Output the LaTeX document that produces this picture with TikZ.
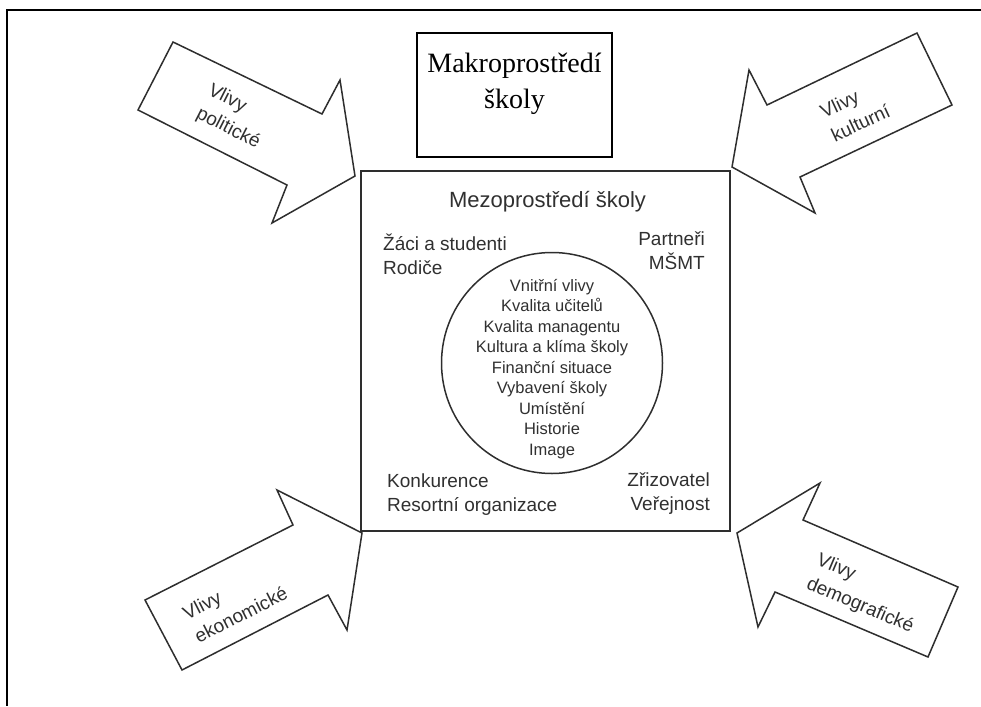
\documentclass[tikz,border=0pt]{standalone}
\usepackage{fontspec}
\setmainfont{Liberation Serif}
\newfontfamily\helv{Liberation Sans}
\definecolor{ink}{HTML}{2E2E2E}
\definecolor{txt}{HTML}{303030}
\begin{document}
\begin{tikzpicture}[x=1pt,y=-1pt,
  frameline/.style={line width=2pt,black},
  blockarrow/.style={draw=ink,line width=1.5pt,line join=miter,fill=white},
  arrowlabel/.style={font=\helv\fontsize{19}{26}\selectfont,text=txt,align=left,inner sep=0pt},
  cornertext/.style={font=\helv\fontsize{19}{24}\selectfont,text=txt,inner sep=0pt},
  innertext/.style={font=\helv\fontsize{16.5}{20.5}\selectfont,text=txt,align=center,inner sep=0pt},
  titletext/.style={font=\fontsize{28}{36}\selectfont,align=center,inner sep=0pt}]

\useasboundingbox (0,0) rectangle (981,706);

% outer frame: top and left edges only
\coordinate (fTR) at (981,10);
\coordinate (fTL) at (7,10);
\coordinate (fBL) at (7,706);
\draw[frameline] (fTR) -- (fTL) -- (fBL);

% title box
\node[draw=black,line width=1.5pt,minimum width=195pt,minimum height=124pt,inner sep=0pt] (makro) at (514.5,95) {};
\node[titletext] (makrotext) at (514.5,84) {Makroprostředí\\školy};

% mesoenvironment box
\node[draw=ink,line width=1.5pt,minimum width=369pt,minimum height=360pt,inner sep=0pt] (mezo) at (545.5,351) {};
\node[font=\helv\fontsize{22}{26}\selectfont,text=txt,inner sep=0pt] (mezotitle) at (547.5,202) {Mezoprostředí školy};

\node[cornertext,align=left,anchor=west] (zaci) at (383,254) {Žáci a studenti\\Rodiče};
\node[cornertext,align=right,anchor=east] (partneri) at (705,251) {Partneři\\MŠMT};
\node[cornertext,align=left,anchor=west] (konkurence) at (387,495) {Konkurence\\Resortní organizace};
\node[cornertext,align=right,anchor=east] (zrizovatel) at (710,494) {Zřizovatel\\Veřejnost};

% inner circle
\node[draw=ink,line width=1.5pt,circle,minimum size=221pt,inner sep=0pt] (vnitrni) at (552,363) {};
\node[innertext] (vnitrnitext) at (552,369) {Vnitřní vlivy\\Kvalita učitelů\\Kvalita managentu\\Kultura a klíma školy\\Finanční situace\\Vybavení školy\\Umístění\\Historie\\Image};

% block arrows pointing at the corners of the box
\coordinate (p1) at (173,42);  \coordinate (p2) at (322,114); \coordinate (p3) at (340,80);
\coordinate (p4) at (355,176); \coordinate (p5) at (272,223); \coordinate (p6) at (287,185);
\coordinate (p7) at (138,110);
\draw[blockarrow] (p1) -- (p2) -- (p3) -- (p4) -- (p5) -- (p6) -- (p7) -- cycle;
\node[arrowlabel,rotate=-27] (politicke) at (234,117) {Vlivy\\politické};

\coordinate (k1) at (917,33);  \coordinate (k2) at (952,105); \coordinate (k3) at (800,177);
\coordinate (k4) at (815,213); \coordinate (k5) at (732,167); \coordinate (k6) at (749,70);
\coordinate (k7) at (767,105);
\draw[blockarrow] (k1) -- (k2) -- (k3) -- (k4) -- (k5) -- (k6) -- (k7) -- cycle;
\node[arrowlabel,rotate=25] (kulturni) at (855,111) {Vlivy\\kulturní};

\coordinate (e1) at (145,600); \coordinate (e2) at (293,525); \coordinate (e3) at (277,490);
\coordinate (e4) at (362,533); \coordinate (e5) at (347,630); \coordinate (e6) at (328,595);
\coordinate (e7) at (182,670);
\draw[blockarrow] (e1) -- (e2) -- (e3) -- (e4) -- (e5) -- (e6) -- (e7) -- cycle;
\node[arrowlabel,rotate=27] (ekonomicke) at (235,603) {Vlivy\\ekonomické};

\coordinate (d1) at (737,533); \coordinate (d2) at (820,483); \coordinate (d3) at (803,520);
\coordinate (d4) at (958,587); \coordinate (d5) at (928,657); \coordinate (d6) at (775,592);
\coordinate (d7) at (758,627);
\draw[blockarrow] (d1) -- (d2) -- (d3) -- (d4) -- (d5) -- (d6) -- (d7) -- cycle;
\node[arrowlabel,rotate=-23] (demograficke) at (865,594) {Vlivy\\demografické};

\end{tikzpicture}
\end{document}
